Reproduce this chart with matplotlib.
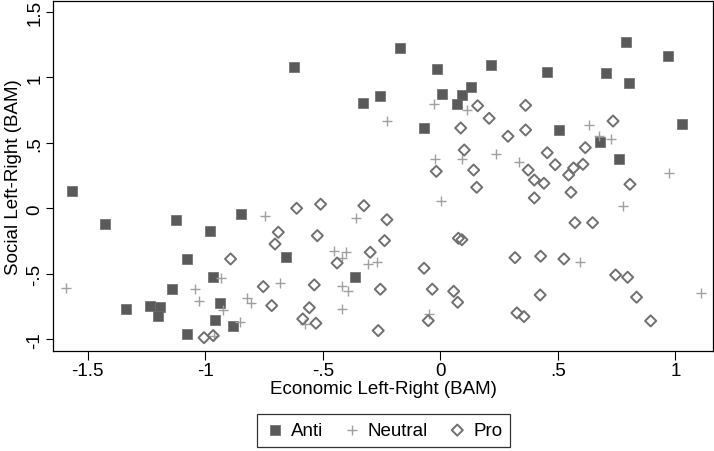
import numpy as np
import matplotlib
matplotlib.use("Agg")
import matplotlib.pyplot as plt

plt.rcParams['font.family'] = ['Liberation Sans', 'DejaVu Sans']

# Anti (filled squares)
anti_x = [-1.565, -1.426, -1.125, -0.846, -0.980, -1.079, -0.658, -0.968, -1.141,
          -1.337, -1.233, -1.194, -1.199, -0.937, -0.958, -0.882, -1.077, -0.363,
          -0.624, -0.328, -0.255, -0.173, -0.014, -0.071, 0.009, 0.092, 0.129,
          0.071, 0.217, 0.453, 0.506, 0.705, 0.790, 0.804, 0.967, 0.678, 0.761, 1.027]
anti_y = [0.134, -0.120, -0.092, -0.044, -0.176, -0.387, -0.369, -0.527, -0.616,
          -0.769, -0.748, -0.751, -0.820, -0.723, -0.850, -0.896, -0.962, -0.524,
          1.081, 0.806, 0.860, 1.221, 1.063, 0.615, 0.870, 0.865, 0.924,
          0.794, 1.096, 1.040, 0.598, 1.030, 1.269, 0.954, 1.160, 0.504, 0.374, 0.646]

# Neutral (plus)
neut_x = [-1.593, -0.744, -0.359, -0.931, -1.043, -1.025, -0.926, -0.824, -0.806,
          -0.852, -0.682, -0.576, -0.453, -0.401, -0.419, -0.417, -0.391, -0.417,
          0.002, -0.308, -0.268, -0.047, -0.026, 0.112, -0.228, 0.633, 0.675,
          0.726, -0.021, 0.092, 0.236, 0.336, 0.973, 0.776, 0.593, 1.109, -0.962]
neut_y = [-0.608, -0.061, -0.074, -0.534, -0.616, -0.710, -0.776, -0.682, -0.720,
          -0.870, -0.570, -0.883, -0.326, -0.336, -0.382, -0.595, -0.634, -0.769,
          0.058, -0.425, -0.407, -0.809, 0.794, 0.753, 0.664, 0.638, 0.550,
          0.529, 0.376, 0.374, 0.412, 0.351, 0.269, 0.015, -0.407, -0.647, -0.972]

# Pro (hollow diamonds)
pro_x = [-0.611, -0.509, -0.689, -0.703, -0.523, -0.892, -0.439, -0.753, -0.536,
         -0.717, -0.557, -0.585, -0.529, -1.005, -0.966, -0.325, -0.227, -0.237,
         -0.298, -0.069, 0.077, 0.092, -0.255, -0.034, 0.057, 0.074, -0.264,
         -0.051, -0.017, 0.155, 0.318, 0.427, 0.526, 0.400, 0.556, 0.573,
         0.648, 0.807, 0.746, 0.797, 0.835, 0.895, 0.425, 0.326, 0.356,
         0.159, 0.363, 0.208, 0.087, 0.363, 0.288, 0.735, 0.102, 0.455,
         0.617, 0.142, 0.489, 0.607, 0.374, 0.567, 0.546, 0.400, 0.441]
pro_y = [0.000, 0.031, -0.183, -0.273, -0.209, -0.387, -0.418, -0.598, -0.585,
         -0.743, -0.759, -0.845, -0.878, -0.988, -0.972, 0.020, -0.087, -0.247,
         -0.336, -0.458, -0.229, -0.240, -0.618, -0.618, -0.634, -0.718, -0.934,
         -0.858, 0.282, 0.160, -0.377, -0.366, -0.387, 0.079, 0.122, -0.110,
         -0.110, 0.183, -0.509, -0.527, -0.679, -0.860, -0.662, -0.799, -0.827,
         0.783, 0.786, 0.687, 0.613, 0.598, 0.550, 0.666, 0.445, 0.424,
         0.463, 0.292, 0.333, 0.336, 0.292, 0.308, 0.254, 0.216, 0.191]

x_ticks = [-1.5, -1, -0.5, 0, 0.5, 1]
x_labels = ['-1.5', '-1', '-.5', '0', '.5', '1']
y_ticks = [-1, -0.5, 0, 0.5, 1, 1.5]
y_labels = ['-1', '-.5', '0', '.5', '1', '1.5']

fig = plt.figure(figsize=(7.14, 4.52), dpi=100)
ax = fig.add_axes([0.0747, 0.2206, 0.9235, 0.7756])

ax.scatter(anti_x, anti_y, marker='s', s=50, color='#5a5a5a',
           edgecolors='#6a6a6a', linewidths=0.5, label='Anti', zorder=3)
ax.scatter(neut_x, neut_y, marker='+', s=42, color='#a0a0a0',
           linewidths=1.0, label='Neutral', zorder=3)
ax.scatter(pro_x, pro_y, marker='D', s=32, facecolors='none',
           edgecolors='#707070', linewidths=1.4, label='Pro', zorder=4)

ax.set_xlim(-1.646, 1.159)
ax.set_ylim(-1.092, 1.585)
ax.set_xticks(x_ticks)
ax.set_xticklabels(x_labels)
ax.set_yticks(y_ticks)
ax.set_yticklabels(y_labels, rotation=90, va='center')

ax.tick_params(axis='x', length=6.5, width=0.8, labelsize=13.5, pad=1)
ax.tick_params(axis='y', length=5, width=0.8, labelsize=13.5, pad=2)
for sp in ax.spines.values():
    sp.set_linewidth(0.9)

ax.set_xlabel('Economic Left-Right (BAM)', fontsize=13.5, labelpad=1)
ax.set_ylabel('Social Left-Right (BAM)', fontsize=13.5, labelpad=3)

leg = fig.legend(loc='center', bbox_to_anchor=(0.537, 0.0454), ncol=3,
                 fontsize=13.5, frameon=True, fancybox=False, edgecolor='black',
                 handletextpad=0.3, columnspacing=1.0, borderpad=0.4,
                 handlelength=1.1, borderaxespad=0.2)
leg.get_frame().set_linewidth(0.9)

fig.savefig('out.png', dpi=100)
